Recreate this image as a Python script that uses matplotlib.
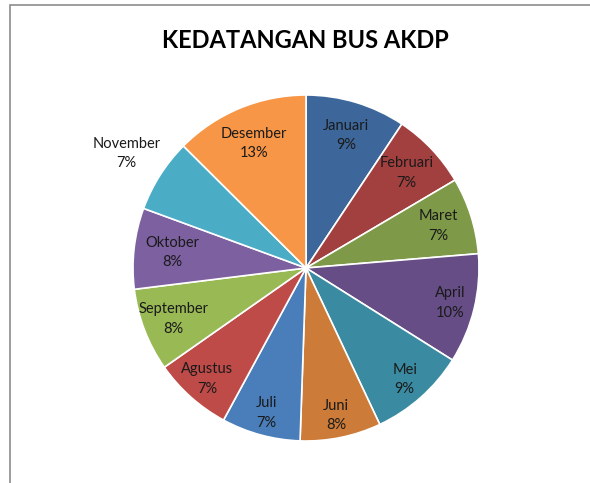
import numpy as np
import matplotlib
matplotlib.use("Agg")
import matplotlib.pyplot as plt
from matplotlib.patches import Rectangle

months = ["Januari", "Februari", "Maret", "April", "Mei", "Juni",
          "Juli", "Agustus", "September", "Oktober", "November", "Desember"]
shares = [9.4, 7.2, 7.2, 10.3, 9.1, 7.6, 7.4, 7.4, 7.8, 7.6, 6.9, 12.6]
colors = ["#3D679B", "#A1403E", "#7E9A48", "#664D85", "#3A8BA2", "#CC7B38",
          "#4A7EBB", "#BE4B48", "#98B954", "#7D60A0", "#4BACC6", "#F79646"]
# how far out each label sits (fraction of radius)
label_r = [0.80, 0.80, 0.80, 0.86, 0.86, 0.87, 0.87, 0.86, 0.82, 0.78, 1.23, 0.78]

plt.rcParams["font.family"] = ["Lato", "DejaVu Sans"]

fig = plt.figure(figsize=(5.9, 4.83), dpi=100)
fig.patches.append(Rectangle((10 / 590, -0.1), 1.2, (483 - 5) / 483 + 0.1,
                             transform=fig.transFigure, fill=False,
                             edgecolor="#8c8c8c", linewidth=1.2))

ax = fig.add_axes([133 / 590, 42 / 483, 346 / 590, 346 / 483])
wedges, _ = ax.pie(shares, colors=colors, startangle=90, counterclock=False,
                   radius=1, wedgeprops=dict(edgecolor="white", linewidth=1.2))
ax.set_xlim(-1, 1)
ax.set_ylim(-1, 1)
ax.set_aspect("equal")

total = sum(shares)
for w, name, val, r in zip(wedges, months, shares, label_r):
    ang = np.deg2rad((w.theta1 + w.theta2) / 2)
    x, y = r * np.cos(ang), r * np.sin(ang)
    pct = round(val / total * 100)
    ax.text(x, y, f"{name}\n{pct}%", ha="center", va="center", fontsize=10.5,
            color="#1a1a1a", linespacing=1.5, clip_on=False)

fig.text(0.517, 1 - 40 / 483, "KEDATANGAN BUS AKDP", ha="center", va="center",
         fontsize=17, fontweight="bold", color="black")

fig.savefig("out.png", dpi=100)
